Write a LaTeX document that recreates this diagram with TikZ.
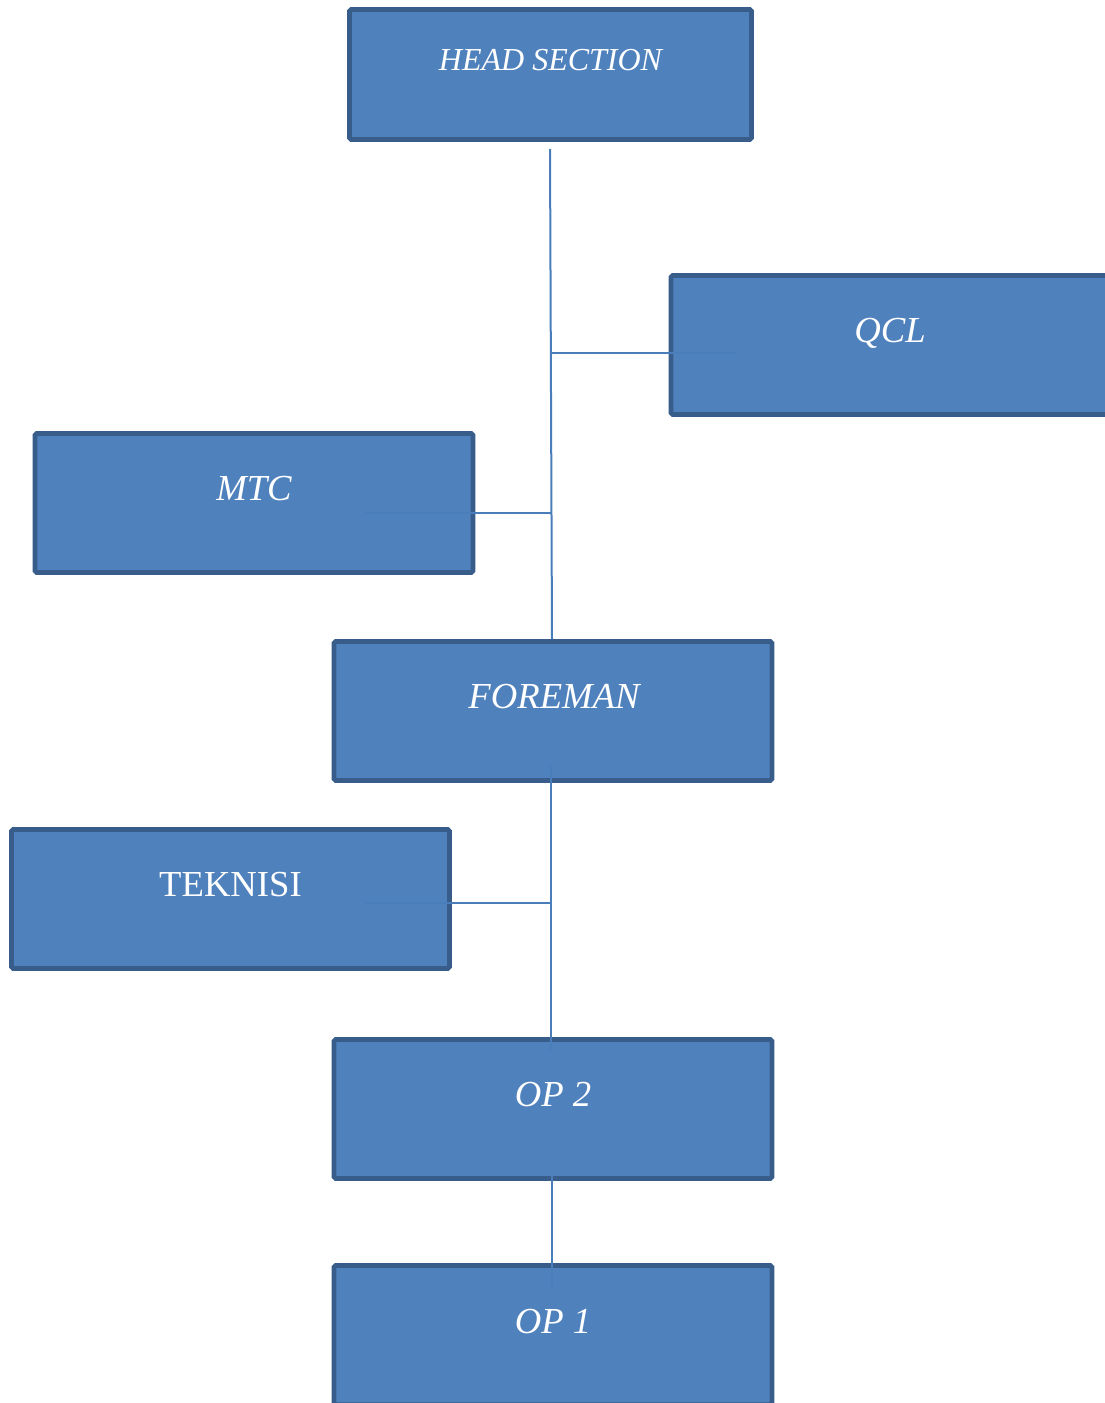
\documentclass[tikz,border=0pt]{standalone}
\usepackage{fontspec}
\setmainfont{Liberation Serif}
\usetikzlibrary{calc}

\definecolor{boxfill}{HTML}{4F81BD}
\definecolor{boxline}{HTML}{385D8A}
\definecolor{connline}{HTML}{4A7EBB}

\tikzset{
  orgbox/.style={draw=boxline, fill=boxfill, line width=3.4pt, rounded corners=1.2pt,
    minimum width=438*0.75pt, minimum height=139*0.75pt, inner sep=0pt},
  lbl/.style={text=white, anchor=base, inner sep=0pt,
    font=\fontsize{27.5}{30}\selectfont\itshape},
  lblup/.style={lbl, font=\fontsize{27.5}{30}\selectfont},
  conn/.style={draw=connline, line width=1.5pt},
}

\begin{document}
\begin{tikzpicture}[x=0.75pt,y=-0.75pt]
  \clip (0,0) rectangle (1105,1403);
  \fill[white] (0,0) rectangle (1105,1403);

  % boxes
  \node[orgbox, minimum width=402*0.75pt, minimum height=130*0.75pt] (head) at (550.5,74.5) {};
  \node[orgbox] (qcl)     at (890,345)  {};
  \node[orgbox] (mtc)     at (254,503)  {};
  \node[orgbox] (foreman) at (553,711)  {};
  \node[orgbox] (teknisi) at (230.5,899) {};
  \node[orgbox] (op2)     at (553,1109) {};
  \node[orgbox] (op1)     at (553,1335) {};

  % connector end points
  \coordinate (trunktop) at (550,149);
  \coordinate (jq)   at (551,353);
  \coordinate (qin)  at (735,353);
  \coordinate (jm)   at (551.5,513);
  \coordinate (min)  at (365,513);
  \coordinate (ftop) at (551,766);
  \coordinate (jt)   at (551,903);
  \coordinate (tin)  at (365,903);
  \coordinate (o2in) at (551,1050);
  \coordinate (o2b)  at (552,1175);
  \coordinate (o1in) at (552,1288);

  % connectors
  \draw[conn] (trunktop) -- ($(foreman.north)+(-1,0)$);
  \draw[conn] (jq) -- (qin);
  \draw[conn] (min) -- (jm);
  \draw[conn] (ftop) -- (o2in);
  \draw[conn] (tin) -- (jt);
  \draw[conn] (o2b) -- (o1in);

  % labels
  \node[lbl, font=\fontsize{24}{28}\selectfont\itshape] (headtxt) at ($(head.center)+(0,-4.5)$) {HEAD SECTION};
  \node[lbl]   (qcltxt)  at ($(qcl.center)+(0,-3)$)     {QCL};
  \node[lbl]   (mtctxt)  at ($(mtc.center)+(0,-3)$)     {MTC};
  \node[lbl]   (fortxt)  at ($(foreman.center)+(1,-3)$) {FOREMAN};
  \node[lblup] (tektxt)  at ($(teknisi.center)+(0,-3)$) {TEKNISI};
  \node[lbl]   (op2txt)  at ($(op2.center)+(0,-3)$)     {OP 2};
  \node[lbl]   (op1txt)  at ($(op1.center)+(0,-2)$)     {OP 1};
\end{tikzpicture}
\end{document}
